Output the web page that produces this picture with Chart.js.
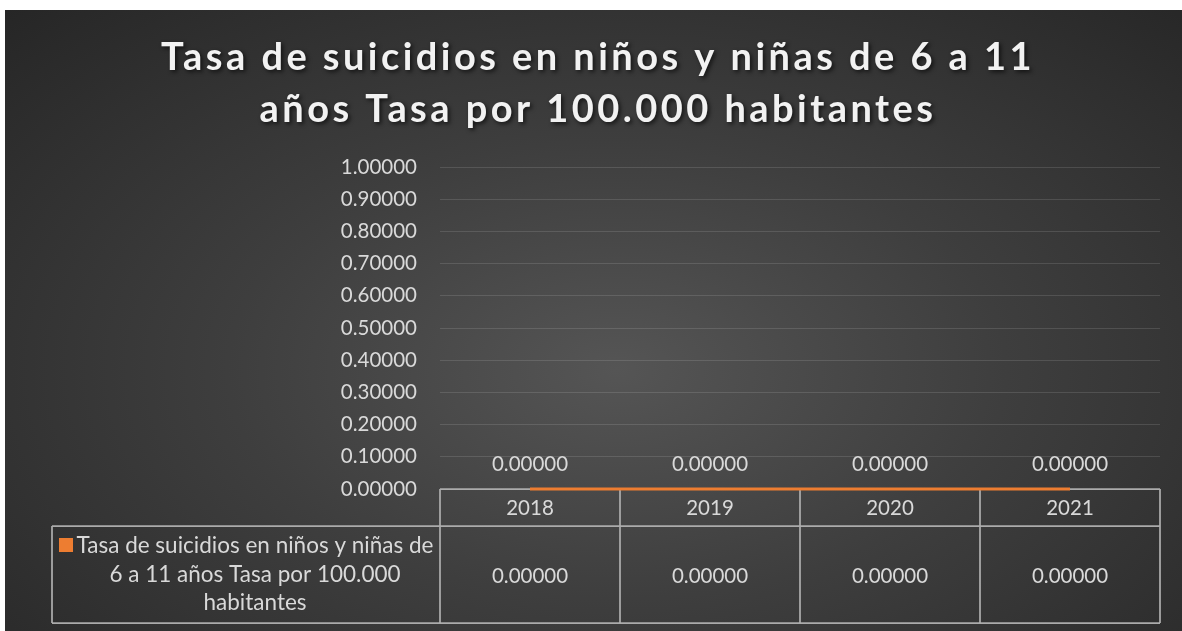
<!DOCTYPE html>
<html>
<head>
<meta charset="utf-8">
<script src="https://cdn.jsdelivr.net/npm/chart.js@4/dist/chart.umd.min.js"></script>
<style>
  html, body { margin: 0; padding: 0; background: #ffffff; }
  #wrap {
    position: absolute; left: 5px; top: 10px; width: 1177px; height: 621px;
    background: radial-gradient(ellipse farthest-corner at 52% 58%, #555555 0%, #3e3e3e 45%, #262626 100%);
  }
  canvas { display: block; }
</style>
</head>
<body>
<div id="wrap"><canvas id="chart" width="1177" height="621"></canvas></div>
<script>
// data
var years = ['2018', '2019', '2020', '2021'];
var tasa = [0, 0, 0, 0];
var seriesName = 'Tasa de suicidios en niños y niñas de 6 a 11 años Tasa por 100.000 habitantes';
var legendLines = ['Tasa de suicidios en niños y niñas de', '6 a 11 años Tasa por 100.000', 'habitantes'];
var titleLines = ['Tasa de suicidios en niños y niñas de 6 a 11', 'años Tasa por 100.000 habitantes'];

var orange = '#ed7d31';
var textColor = '#d9d9d9';
var tableLine = '#ababab';
var font = 'Lato, "Open Sans", sans-serif';

function fmt(v) { return Number(v).toFixed(5); }

// title with letter spacing + shadow
var titlePlugin = {
    id: 'bigTitle',
    afterDraw: function(chart) {
        var ctx = chart.ctx;
        ctx.save();
        ctx.font = 'bold 38px ' + font;
        ctx.letterSpacing = '3.45px';
        ctx.fillStyle = '#f2f2f2';
        ctx.textAlign = 'center';
        ctx.textBaseline = 'alphabetic';
        ctx.shadowColor = 'rgba(0,0,0,0.65)';
        ctx.shadowBlur = 4;
        ctx.shadowOffsetX = 2;
        ctx.shadowOffsetY = 2;
        ctx.fillText(titleLines[0], 593, 60);
        ctx.fillText(titleLines[1], 593, 112);
        ctx.restore();
    }
};

// data table under the plot, cells follow the x scale
function colEdges(chart) {
    var x = chart.scales.x, area = chart.chartArea;
    var edges = [area.left];
    for (var i = 1; i < years.length; i++) {
        edges.push((x.getPixelForValue(i - 1) + x.getPixelForValue(i)) / 2);
    }
    edges.push(area.right);
    return edges;
}

var tablePlugin = {
    id: 'dataTable',
    beforeDatasetsDraw: function(chart) {
        var ctx = chart.ctx;
        var top = chart.scales.y.getPixelForValue(0);
        var mid = top + 37, bot = top + 134;
        var left = 47;
        var e = colEdges(chart);
        ctx.save();
        ctx.strokeStyle = tableLine;
        ctx.lineWidth = 1.75;
        ctx.beginPath();
        ctx.moveTo(e[0], top); ctx.lineTo(e[e.length - 1], top);
        ctx.moveTo(left, mid); ctx.lineTo(e[e.length - 1], mid);
        ctx.moveTo(left, bot); ctx.lineTo(e[e.length - 1], bot);
        ctx.moveTo(left, mid); ctx.lineTo(left, bot);
        for (var i = 0; i < e.length; i++) {
            ctx.moveTo(e[i], top); ctx.lineTo(e[i], bot);
        }
        ctx.stroke();
        ctx.restore();
    },
    afterDraw: function(chart) {
        var ctx = chart.ctx;
        var x = chart.scales.x;
        var top = chart.scales.y.getPixelForValue(0);
        ctx.save();
        ctx.font = '20.5px ' + font;
        ctx.fillStyle = textColor;
        ctx.textAlign = 'center';
        ctx.textBaseline = 'alphabetic';
        for (var i = 0; i < years.length; i++) {
            var cx = x.getPixelForValue(i);
            ctx.fillText(years[i], cx, top + 26);
            ctx.fillText(fmt(tasa[i]), cx, top + 93.5);
        }
        // legend cell
        ctx.font = '22.5px ' + font;
        for (var j = 0; j < legendLines.length; j++) {
            ctx.fillText(legendLines[j], 250, top + 64 + j * 28.5);
        }
        ctx.fillStyle = orange;
        ctx.fillRect(54, top + 49, 14, 14);
        ctx.restore();
    }
};

// value labels above points
var labelPlugin = {
    id: 'valueLabels',
    afterDatasetsDraw: function(chart) {
        var ctx = chart.ctx;
        var meta = chart.getDatasetMeta(0);
        ctx.save();
        ctx.font = '20.5px ' + font;
        ctx.fillStyle = textColor;
        ctx.textAlign = 'center';
        ctx.textBaseline = 'alphabetic';
        meta.data.forEach(function(pt, i) {
            ctx.fillText(fmt(tasa[i]), pt.x, pt.y - 18);
        });
        ctx.restore();
    }
};

var ctx = document.getElementById('chart').getContext('2d');
var chart = new Chart(ctx, {
    type: 'line',
    data: {
        labels: years,
        datasets: [{
            label: seriesName,
            data: tasa,
            borderColor: orange,
            backgroundColor: orange,
            borderWidth: 3,
            pointRadius: 0,
            tension: 0,
            clip: 4
        }]
    },
    options: {
        responsive: false,
        animation: false,
        layout: { padding: { top: 157, bottom: 142, left: 0, right: 22 } },
        plugins: {
            legend: { display: false },
            tooltip: { enabled: false }
        },
        scales: {
            x: {
                display: false,
                offset: true
            },
            y: {
                min: 0,
                max: 1,
                afterFit: function(scale) { scale.width = 435; },
                ticks: {
                    stepSize: 0.1,
                    padding: 23,
                    color: textColor,
                    font: { family: font, size: 20.5 },
                    callback: function(v) { return fmt(v); }
                },
                grid: {
                    color: 'rgba(255,255,255,0.12)',
                    lineWidth: 1,
                    drawTicks: false
                },
                border: { display: false }
            }
        }
    },
    plugins: [tablePlugin, labelPlugin, titlePlugin]
});
</script>
</body>
</html>
